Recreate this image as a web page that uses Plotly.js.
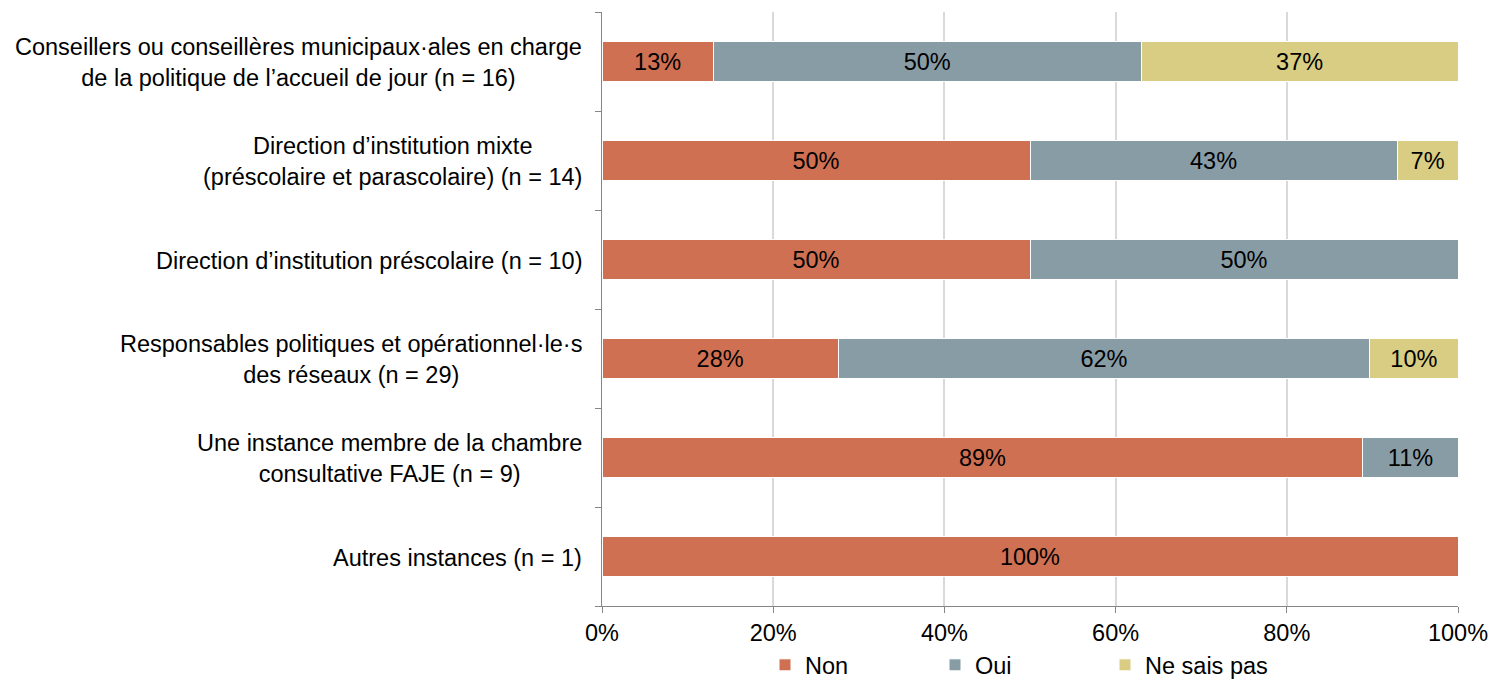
<!DOCTYPE html>
<html><head><meta charset="utf-8">
<script src="https://cdn.plot.ly/plotly-3.0.1.min.js"></script>
<style>html,body{margin:0;padding:0;background:#fff}#chart{width:1493px;height:680px}</style>
</head><body><div id="chart"></div>
<script>
const categories = [
  "Conseillers ou conseillères municipaux·ales en charge<br>de la politique de l’accueil de jour (n = 16)",
  "Direction d’institution mixte<br>(préscolaire et parascolaire) (n = 14)",
  "Direction d’institution préscolaire (n = 10)",
  "Responsables politiques et opérationnel·le·s<br>des réseaux (n = 29)",
  "Une instance membre de la chambre<br>consultative FAJE (n = 9)",
  "Autres instances (n = 1)"
];
const seriesNames = ["Non", "Oui", "Ne sais pas"];
const nonValues = [13, 50, 50, 27.6, 88.9, 100];
const ouiValues = [50, 42.9, 50, 62.1, 11.1, 0];
const nspValues = [37, 7.1, 0, 10.3, 0, 0];
const xTickValues = [0, 20, 40, 60, 80, 100];
const colors = ["#D07052", "#889CA6", "#D8CD82"];

const font = "Liberation Sans, Arial, sans-serif";
const fs = 23.5;
const allValues = [nonValues, ouiValues, nspValues];
const ids = categories.map((c, i) => i);

const traces = allValues.map((vals, k) => ({
  type: "bar",
  orientation: "h",
  name: seriesNames[k],
  x: vals,
  y: ids,
  text: vals.map(v => v > 0 ? Math.round(v) + "%" : ""),
  textposition: "inside",
  insidetextanchor: "middle",
  textangle: 0,
  constraintext: "none",
  textfont: {family: font, size: fs, color: "#000"},
  marker: {color: colors[k], line: {color: "#fff", width: 1}},
  hoverinfo: "skip"
}));

const annotations = categories.map((c, i) => ({
  text: c,
  xref: "paper", x: 0, xanchor: "right", xshift: -18,
  yref: "y", y: i, yanchor: "middle", yshift: -1,
  align: "center",
  showarrow: false,
  font: {family: font, size: fs, color: "#000"}
}));

const layout = {
  width: 1493, height: 680,
  margin: {l: 602, r: 35, t: 12, b: 74},
  paper_bgcolor: "#fff", plot_bgcolor: "#fff",
  barmode: "stack",
  bargap: 0.6,
  font: {family: font, size: fs, color: "#000"},
  showlegend: true,
  legend: {
    orientation: "h", xref: "paper", x: 0.5 - 10 / 856, xanchor: "center",
    yref: "container", y: 0.022, yanchor: "middle",
    font: {family: font, size: fs, color: "#000"},
    itemwidth: 30, traceorder: "normal",
    entrywidth: 125, entrywidthmode: "pixels"
  },
  xaxis: {
    range: [0, 100], tickvals: xTickValues, ticktext: xTickValues.map(v => v + "%"),
    showgrid: true, gridcolor: "#D9D9D9", gridwidth: 2,
    showline: true, linecolor: "#868686", linewidth: 1,
    ticks: "outside", ticklen: 6, tickcolor: "#868686",
    zeroline: false, fixedrange: true,
    tickfont: {family: font, size: fs, color: "#000"}
  },
  yaxis: {
    type: "linear", range: [5.5, -0.5],
    tickvals: [-0.5, 0.5, 1.5, 2.5, 3.5, 4.5, 5.5], showticklabels: false,
    ticks: "outside", ticklen: 6, tickcolor: "#868686",
    showline: true, linecolor: "#868686", linewidth: 1,
    showgrid: false, zeroline: false
  },
  annotations: annotations
};

Plotly.newPlot("chart", traces, layout, {displayModeBar: false, staticPlot: true});
</script></body></html>
